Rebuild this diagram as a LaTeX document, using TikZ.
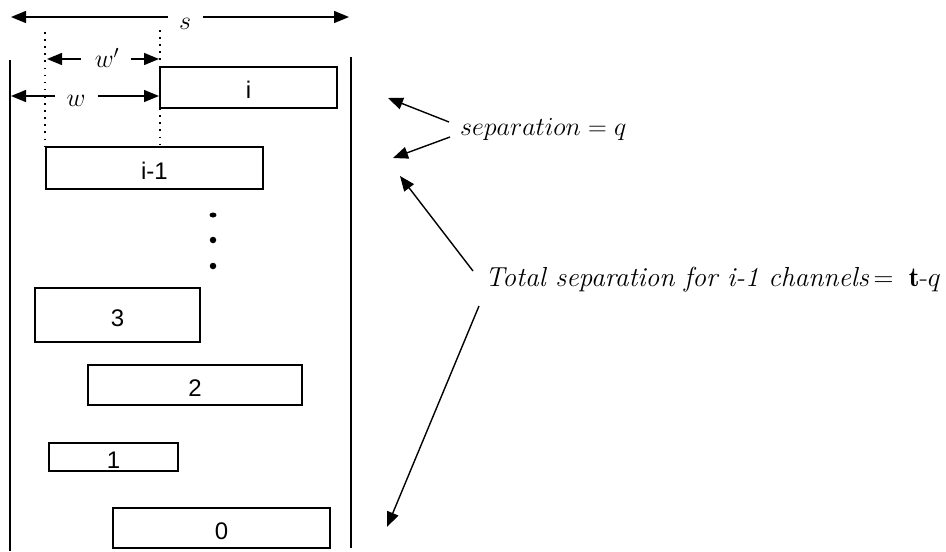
\RequirePackage{fix-cm}
\documentclass[tikz,border=0pt]{standalone}
\usepackage{fontspec}
\newfontfamily\boxfont{Liberation Sans}
\usetikzlibrary{arrows.meta,shapes.geometric}
\tikzset{
  chan/.style={draw, line width=1.5pt, inner sep=0pt, font=\boxfont\fontsize{24}{28}\selectfont, text height=22pt, text depth=0pt},
  arr/.style={line width=1.4pt, -{Triangle[length=15pt,width=12pt]}},
  wall/.style={line width=1.7pt},
  guide/.style={line width=1.6pt, dash pattern=on 1.6pt off 5.5pt},
  lab/.style={font=\fontsize{26}{30}\selectfont, inner sep=0pt},
  dotmark/.style={fill, circle, inner sep=0pt, minimum size=6.5pt}
}
\begin{document}
\begin{tikzpicture}[x=1pt,y=-1pt]
\useasboundingbox (0,0) rectangle (946,552);
% walls
\coordinate (lwT) at (10,60);  \coordinate (lwB) at (10,551);
\coordinate (rwT) at (351,57); \coordinate (rwB) at (351,548);
\draw[wall] (lwT) -- (lwB);
\draw[wall] (rwT) -- (rwB);
% channels
\node[chan, minimum width=177pt, minimum height=41pt] (ci)  at (248.5,87.5) {i};
\node[chan, minimum width=217pt, minimum height=42pt] (ci1) at (154.5,168) {i-1};
\node[chan, minimum width=165pt, minimum height=54pt] (c3)  at (117.5,315) {3};
\node[chan, minimum width=214pt, minimum height=40pt] (c2)  at (195,385) {2};
\node[chan, minimum width=129pt, minimum height=28pt] (c1)  at (113.5,457) {1};
\node[chan, minimum width=217pt, minimum height=40pt] (c0)  at (221.5,528) {0};
% vertical dots
\node[fill, ellipse, inner sep=0pt, minimum width=7pt, minimum height=5pt] (d1) at (213,215) {};
\node[dotmark] (d2) at (213,240) {};
\node[dotmark] (d3) at (213,266) {};
% dotted guides
\coordinate (g1T) at (45,32);  \coordinate (g1B) at (45,147);
\coordinate (g2T) at (160,30); \coordinate (g2B) at (160,147);
\draw[guide] (g1T) -- (g1B);
\draw[guide] (g2T) -- (g2B);
% s dimension
\node[lab] (s) at (185,24) {$s$};
\coordinate (sA) at (168,17); \coordinate (sL) at (11,17);
\coordinate (sB) at (203,17); \coordinate (sR) at (349,17);
\draw[arr] (sA) -- (sL);
\draw[arr] (sB) -- (sR);
% w' dimension
\node[lab] (wp) at (107,58) {$w'$};
\coordinate (wpA) at (81,59);  \coordinate (wpL) at (47,59);
\coordinate (wpB) at (131,59); \coordinate (wpR) at (159,59);
\draw[arr] (wpA) -- (wpL);
\draw[arr] (wpB) -- (wpR);
% w dimension
\node[lab] (w) at (76,101) {$w$};
\coordinate (wA) at (55,96); \coordinate (wL) at (11,96);
\coordinate (wB) at (98,96); \coordinate (wR) at (159,96);
\draw[arr] (wA) -- (wL);
\draw[arr] (wB) -- (wR);
% separation = q
\node[lab, anchor=west] (sep) at (460,130) {$separation = q$};
\coordinate (q1s) at (449,122); \coordinate (q1e) at (388,98);
\coordinate (q2s) at (450,137); \coordinate (q2e) at (393,158);
\draw[arr] (q1s) -- (q1e);
\draw[arr] (q2s) -- (q2e);
% total separation
\node[lab, font=\fontsize{27.5}{32}\selectfont, anchor=west] (tot) at (485,280) {\textit{Total separation for i-1 channels}$\,=\;\mathbf{t}$-$q$};
\coordinate (t1s) at (473,271); \coordinate (t1e) at (400,176);
\coordinate (t2s) at (479,306); \coordinate (t2e) at (387,527);
\draw[arr] (t1s) -- (t1e);
\draw[arr] (t2s) -- (t2e);
\end{tikzpicture}
\end{document}
